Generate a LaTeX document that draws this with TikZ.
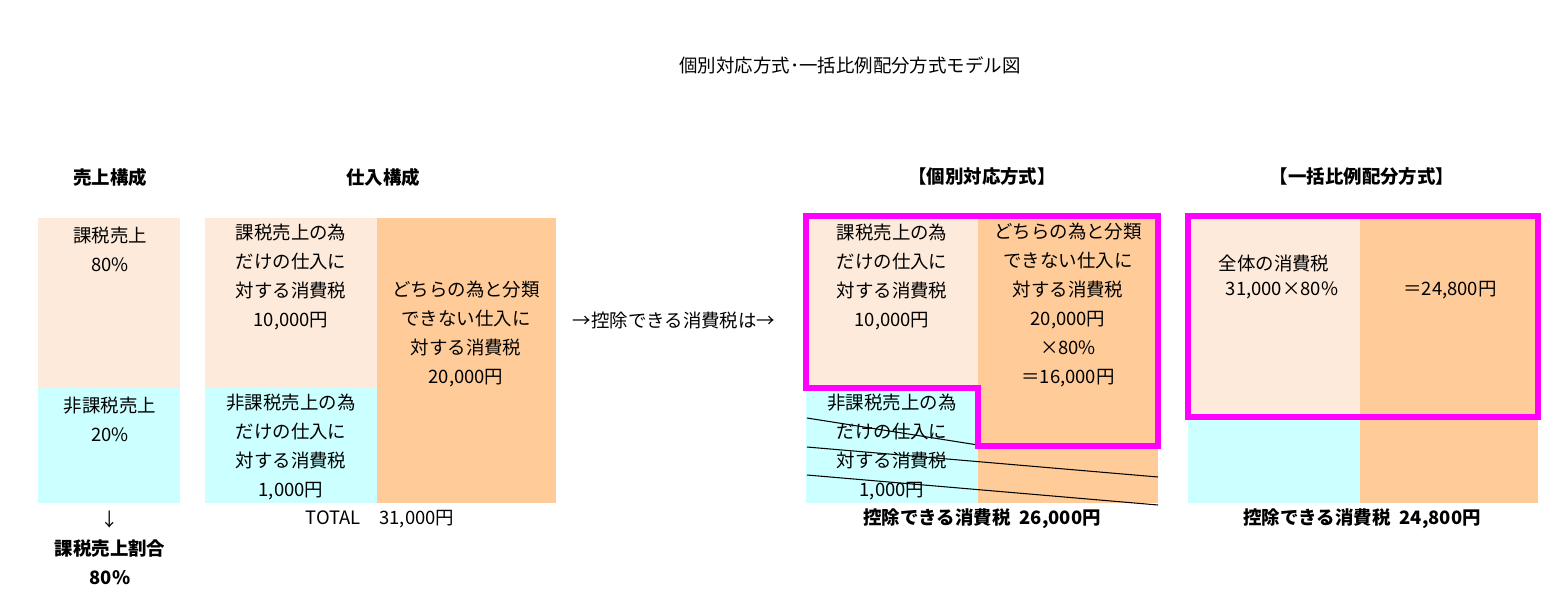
\documentclass[tikz,border=0pt]{standalone}
\usepackage{fontspec}
\setmainfont{Noto Sans CJK JP}
\begin{document}
\begin{tikzpicture}[x=0.02cm,y=-0.02cm,
  every node/.style={inner sep=0pt,align=center,font=\fontsize{10.5}{16.4}\selectfont},
  bld/.style={font=\fontsize{10.5}{16.4}\selectfont\bfseries},
  mag/.style={draw=magenta!100,line width=0.13cm,line join=miter}]
\definecolor{peach}{HTML}{FDEADA}
\definecolor{cyanb}{HTML}{CCFFFF}
\definecolor{oran}{HTML}{FFCC99}
\definecolor{magenta}{HTML}{FF00FF}
\useasboundingbox (0,0) rectangle (1558,606);
\node (title) at (850,65) {個別対応方式･一括比例配分方式モデル図};
\node[bld] (h1) at (110,177) {売上構成};
\node[bld] (h2) at (383,177) {仕入構成};
\node[bld] (h3) at (982,177) {【個別対応方式】};
\node[bld] (h4) at (1362,177) {【一括比例配分方式】};
% col1
\fill[peach] (38,218) rectangle (180,388);
\fill[cyanb] (38,388) rectangle (180,503);
\node (a1) at (110,249) {課税売上\\80\%};
\node (a2) at (110,419) {非課税売上\\20\%};
\node (a3) at (110,520) {↓};
\node[bld] (a4) at (110,562) {課税売上割合\\80\%};
% col2
\fill[peach] (205,218) rectangle (377,388);
\fill[cyanb] (205,388) rectangle (377,503);
\fill[oran] (377,218) rectangle (556,503);
\node (b1) at (291,277) {課税売上の為\\だけの仕入に\\対する消費税\\10,000円};
\node (b2) at (291,447) {非課税売上の為\\だけの仕入に\\対する消費税\\1,000円};
\node (b3) at (466,334) {どちらの為と分類\\できない仕入に\\対する消費税\\20,000円};
\node (b4) at (380,519) {TOTAL\quad 31,000円};
\node (arr) at (674,320) {→控除できる消費税は→};
% col3
\fill[peach] (806,218) rectangle (978,388);
\fill[cyanb] (806,388) rectangle (978,503);
\fill[oran] (978,218) rectangle (1158,503);
\node (c1) at (892,277) {課税売上の為\\だけの仕入に\\対する消費税\\10,000円};
\node (c2) at (892,447) {非課税売上の為\\だけの仕入に\\対する消費税\\1,000円};
\node (c3) at (1068,305) {どちらの為と分類\\できない仕入に\\対する消費税\\20,000円\\×80\%\\＝16,000円};
\coordinate (l1a) at (807,418); \coordinate (l1b) at (1158,474);
\coordinate (l2a) at (807,447); \coordinate (l2b) at (1158,477);
\coordinate (l3a) at (807,475); \coordinate (l3b) at (1158,505);
\draw[line width=0.6pt] (l1a) -- (978,445);
\draw[line width=0.6pt] (l2a) -- (l2b);
\draw[line width=0.6pt] (l3a) -- (l3b);
\draw[mag] (806,216) -- (1158,216) -- (1158,446) -- (978,446) -- (978,388) -- (806,388) -- cycle;
\node[bld] (c4) at (982,519) {控除できる消費税\enspace 26,000円};
% col4
\fill[peach] (1188,218) rectangle (1360,417);
\fill[cyanb] (1188,417) rectangle (1360,503);
\fill[oran] (1360,218) rectangle (1538,503);
\draw[mag] (1188,216) rectangle (1538,417);
\node (d1) at (1274,263) {全体の消費税};
\node (d2) at (1282,290) {31,000×80\%};
\node (d3) at (1450,290) {＝24,800円};
\node[bld] (d4) at (1362,519) {控除できる消費税\enspace 24,800円};
\end{tikzpicture}
\end{document}
